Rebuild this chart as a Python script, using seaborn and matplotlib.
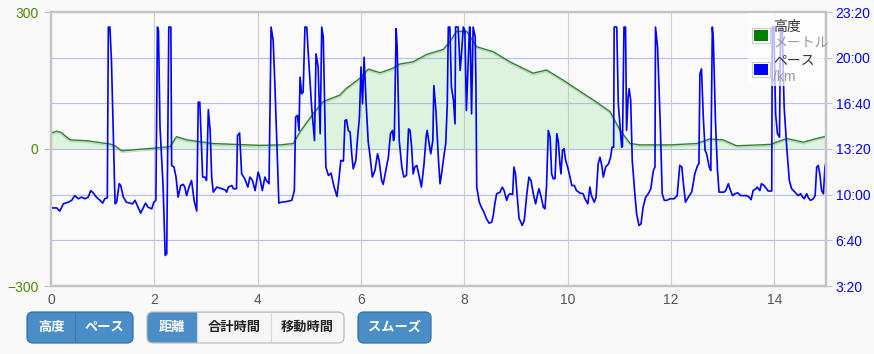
import matplotlib
matplotlib.use("Agg")
import matplotlib.pyplot as plt
import matplotlib.patheffects as pe
import seaborn as sns
from matplotlib.patches import FancyBboxPatch, Rectangle
from matplotlib.ticker import FuncFormatter

# 高度 (m) / 距離 (km)
elev_km = [0.0, 0.11, 0.2, 0.37, 0.7, 1.14, 1.24, 1.37, 1.78, 2.0, 2.30, 2.36, 2.43, 2.63, 3.13,
           4.04, 4.43, 4.69, 4.82, 5.08, 5.27, 5.59, 5.72, 5.98, 6.14, 6.37, 6.62, 6.75, 7.01, 7.27,
           7.59, 7.72, 7.85, 8.05, 8.24, 8.56, 8.88, 9.33, 9.59, 9.91, 10.11, 10.5, 10.82, 11.01, 11.21,
           11.4, 11.98, 12.5, 12.75, 13.01, 13.27, 13.92, 14.24, 14.56, 14.82, 15.0]
elev_m = [35, 39, 36, 20, 18, 11, 7, -4, 0, 2, 5, 15, 27, 20, 12,
          8, 9, 12, 38, 78, 104, 118, 133, 155, 175, 167, 177, 186, 191, 207,
          218, 235, 258, 257, 224, 213, 191, 166, 173, 151, 136, 107, 82, 42, 12,
          9, 9, 12, 22, 20, 7, 10, 23, 15, 23, 28]

# ペース (秒/km)
pace_km = [0.0, 0.11, 0.17, 0.24, 0.335, 0.40, 0.46, 0.53, 0.59, 0.66, 0.72, 0.77, 0.82, 0.88, 0.95,
           1.00, 1.04, 1.09, 1.11, 1.14, 1.17, 1.24, 1.27, 1.32, 1.35, 1.40, 1.46, 1.53, 1.58, 1.625,
           1.67, 1.735, 1.79, 1.83, 1.88, 1.95, 1.99, 2.03, 2.06, 2.08, 2.11, 2.17, 2.21, 2.24, 2.28,
           2.32, 2.335, 2.38, 2.42, 2.46, 2.51, 2.56, 2.59, 2.625, 2.67, 2.72, 2.77, 2.82, 2.85, 2.88,
           2.935,
           2.98, 3.01, 3.045, 3.08, 3.11, 3.14, 3.21, 3.30, 3.37, 3.40, 3.43, 3.50, 3.53, 3.59, 3.61,
           3.65, 3.69, 3.75, 3.81, 3.85, 3.90, 3.95, 4.01, 4.04, 4.09, 4.14, 4.17, 4.22, 4.26, 4.30,
           4.335, 4.41, 4.46, 4.56, 4.66, 4.71, 4.735, 4.77, 4.80, 4.82, 4.85, 4.88, 4.915, 4.95, 4.98,
           5.045, 5.10, 5.13, 5.17, 5.21, 5.24, 5.27, 5.32, 5.37, 5.42, 5.48, 5.535, 5.57, 5.61, 5.66,
           5.69, 5.72, 5.755, 5.79, 5.82, 5.85, 5.90, 5.935, 5.97,
           6.00, 6.03, 6.06, 6.10, 6.14, 6.17, 6.22, 6.27, 6.32, 6.35, 6.40, 6.43, 6.48, 6.53, 6.57,
           6.61, 6.63, 6.645, 6.68, 6.70, 6.74, 6.79, 6.83, 6.88, 6.92, 6.95, 6.98, 7.01, 7.04, 7.08,
           7.13, 7.17, 7.22, 7.26, 7.28, 7.31, 7.35, 7.39, 7.41, 7.45, 7.50, 7.53, 7.56, 7.61, 7.64,
           7.67, 7.69, 7.72, 7.75, 7.79, 7.82, 7.83, 7.88, 7.92, 7.95, 7.98, 8.01, 8.04, 8.08, 8.10,
           8.11, 8.14, 8.17, 8.21, 8.225, 8.24, 8.29, 8.33, 8.38, 8.43, 8.48, 8.53, 8.56, 8.59, 8.625,
           8.69, 8.735, 8.77, 8.82, 8.85, 8.88, 8.935, 8.96, 8.99, 9.025, 9.06,
           9.08, 9.12, 9.16, 9.21, 9.25, 9.29, 9.335, 9.38, 9.42, 9.445, 9.48, 9.53, 9.56, 9.59, 9.625,
           9.66, 9.69, 9.72, 9.755, 9.79, 9.82, 9.85, 9.87, 9.90, 9.93, 9.96, 10.00, 10.045, 10.08, 10.13,
           10.17, 10.24, 10.30, 10.335, 10.39, 10.43, 10.46, 10.515, 10.55, 10.59, 10.625, 10.66, 10.69,
           10.735, 10.79, 10.83, 10.86, 10.89, 10.90, 10.95, 10.98, 11.045, 11.06, 11.09, 11.12, 11.14,
           11.17, 11.19, 11.22, 11.25, 11.30, 11.335, 11.38, 11.42, 11.46, 11.51, 11.56, 11.61, 11.64,
           11.66, 11.69, 11.70, 11.74, 11.79, 11.83, 11.87, 11.915, 11.98,
           12.06, 12.12, 12.17, 12.21, 12.24, 12.28, 12.335, 12.40, 12.43, 12.46, 12.515, 12.54, 12.56,
           12.59, 12.625, 12.66, 12.69, 12.74, 12.77, 12.80, 12.82, 12.86, 12.90, 12.93, 12.98, 13.025,
           13.06, 13.11, 13.14, 13.19, 13.24, 13.29, 13.35, 13.40, 13.46, 13.515, 13.55, 13.59, 13.645,
           13.67, 13.72, 13.75, 13.80, 13.85, 13.88, 13.95, 13.96, 13.99, 14.025, 14.06, 14.10, 14.12,
           14.15, 14.19, 14.24, 14.29, 14.335, 14.40, 14.46, 14.51, 14.55, 14.58, 14.625, 14.66, 14.70,
           14.755, 14.79, 14.82, 14.85, 14.88, 14.915, 14.95, 14.98, 15.00]
pace_s = [542, 542, 528, 560, 567, 575, 596, 582, 589, 582, 589, 618, 607, 589, 575,
          563, 582, 586, 1334, 1334, 1188, 560, 567, 648, 640, 589, 567, 563, 560, 575,
          553, 519, 545, 563, 545, 538, 567, 575, 1334, 1319, 896, 633, 334, 341, 1334,
          1334, 728, 721, 677, 589, 640, 645, 633, 596, 633, 662, 575, 528, 1005, 1005,
          677,
          677, 662, 972, 881, 677, 611, 633, 626, 621, 611, 633, 640, 626, 626, 859,
          870, 691, 670, 633, 677, 662, 618, 699, 677, 618, 677, 662, 648, 1334, 1275,
          1071, 563, 567, 570, 575, 618, 940, 947, 881, 1115, 1042, 1049, 1334, 1334, 1217,
          983, 837, 1217, 1159, 867, 1334, 1290, 721, 684, 694, 633, 592, 662, 750, 747,
          925, 928, 881, 874, 779, 713, 750, 852, 940,
          1159, 998, 1202, 998, 830, 779, 677, 706, 779, 750, 662, 645, 706, 764, 867,
          881, 837, 852, 1327, 1246, 837, 721, 677, 684, 888, 881, 808, 691, 721, 728,
          677, 633, 735, 852, 881, 837, 779, 837, 1078, 969, 750, 648, 691, 779, 823,
          998, 1334, 1334, 1071, 1013, 910, 1334, 1334, 1144, 1232, 1334, 1319, 969, 1217, 1334,
          1334, 954, 1334, 1290, 1071, 633, 567, 545, 523, 494, 475, 480, 509, 560, 604,
          611, 633, 618, 575, 596, 604, 601, 721, 691, 589, 494,
          487, 465, 487, 604, 677, 662, 604, 560, 604, 626, 596, 545, 538, 633, 881,
          852, 691, 670, 670, 867, 830, 735, 691, 794, 801, 750, 721, 677, 640, 640,
          618, 607, 604, 582, 560, 633, 596, 567, 589, 735, 764, 728, 677,
          721, 735, 764, 808, 808, 1334, 1334, 998, 808, 811, 1334, 1334, 881,
          1027, 1064, 1013, 750, 604, 516, 465, 472, 545, 589, 604, 626, 677,
          706, 721, 1334, 1246, 925, 604, 575, 575, 582,
          582, 596, 728, 721, 648, 567, 589, 611, 648, 691, 728, 735, 1129,
          1151, 940, 794, 779, 721, 706, 1334, 1275, 925, 706, 611, 611, 611,
          618, 648, 626, 596, 604, 608, 596, 596, 596, 589, 578, 618, 626,
          633, 618, 648, 640, 626, 616, 616, 1334, 1334, 954, 867, 852, 1334,
          1334, 983, 808, 662, 626, 611, 596, 604, 589, 582, 604, 586, 575,
          582, 596, 721, 728, 691, 618, 604, 721, 743]

x_ticks = [0, 2, 4, 6, 8, 10, 12, 14]
elev_ticks = [-300, 0, 300]
pace_ticks = [200, 400, 600, 800, 1000, 1200, 1400]

sns.set_theme(style="white")
plt.rcParams['font.family'] = ['Liberation Sans', 'Noto Sans CJK JP']

fig = plt.figure(figsize=(8.74, 3.54), dpi=100, facecolor='#f9f9f9')
ax = fig.add_axes([51/874, 68/354, 775/874, 274/354])
ax.set_facecolor('#fafafa')
ax2 = ax.twinx()

# 高度
ax.fill_between(elev_km, elev_m, 0, color='#5cd65c', alpha=0.18, lw=0, zorder=1)
sns.lineplot(x=elev_km, y=elev_m, ax=ax, color='#2a862a', lw=1.0, estimator=None, sort=False, zorder=2,
             path_effects=[pe.SimpleLineShadow(offset=(0, -1.2), shadow_color='#777777', alpha=0.25),
                           pe.Normal()])
# ペース
sns.lineplot(x=pace_km, y=pace_s, ax=ax2, color='#0000ff', lw=1.2, estimator=None, sort=False)

ax.set_xlim(0, 15)
ax.set_ylim(-300, 300)
ax2.set_ylim(200, 1400)
ax.set_xticks(x_ticks)
ax.set_yticks(elev_ticks)
ax.set_yticks([-200, -100, 100, 200], minor=True)
ax2.set_yticks(pace_ticks)
ax2.yaxis.set_major_formatter(FuncFormatter(lambda s, p: f"{int(s)//60}:{int(s)%60:02d}"))
ax.set_xlabel("")
ax.set_ylabel("")
ax2.set_ylabel("")

ax.set_axisbelow(True)
ax.grid(axis='y', which='both', color='#bcbcf4', lw=0.8)
ax.grid(axis='x', which='major', color='#d0d0d0', lw=0.8)

ax.tick_params(axis='y', which='major', length=5, width=0.8, color='#c4c4c4',
               labelcolor='#4a8a00', labelsize=10, pad=4)
ax.tick_params(axis='y', which='minor', length=0)
ax.tick_params(axis='x', length=0, labelcolor='#555555', labelsize=10, pad=5)
ax2.tick_params(axis='y', length=4, width=0.8, color='#c0c0f0', labelcolor='#0000ff',
                labelsize=10, pad=3)

for a in (ax, ax2):
    for s in a.spines.values():
        s.set_color('#c4c4c4')
        s.set_linewidth(1.6)

# legend + buttons drawn in pixel coords
bax = fig.add_axes([0, 0, 1, 1])
bax.set_xlim(0, 874)
bax.set_ylim(354, 0)
bax.axis('off')

bax.add_patch(Rectangle((748, 13), 76, 73, facecolor='white', alpha=0.72, edgecolor='none'))
for y0, c, name, unit in [(28, '#008000', '高度', 'メートル'), (62, '#0000ff', 'ペース', '/km')]:
    bax.add_patch(Rectangle((752, y0), 18, 15, facecolor='white', edgecolor='#cccccc', lw=0.8))
    bax.add_patch(Rectangle((754, y0 + 2), 14, 11, facecolor=c, edgecolor='none'))
    bax.text(773, y0 - 1, name, fontsize=10, color='#333333', va='center', ha='left')
    bax.text(773, y0 + 15, unit, fontsize=10, color='#999999', va='center', ha='left')

blue = '#4b8dc7'
blue_edge = '#3574ad'
white = '#f6f6f6'


def button_group(x0, w, segs):
    box = FancyBboxPatch((x0, 312), w, 31, boxstyle='round,pad=0,rounding_size=6',
                         facecolor=white, edgecolor='none')
    bax.add_patch(box)
    x = x0
    for label, sw, on in segs:
        r = Rectangle((x, 312), sw, 31, facecolor=blue if on else white,
                      edgecolor='#3a78b0' if on else '#d8d8d8', lw=0.8)
        bax.add_patch(r)
        r.set_clip_path(box)
        bax.text(x + sw / 2, 327.5, label, fontsize=9.5, fontweight='bold',
                 color='white' if on else '#222222', ha='center', va='center')
        x += sw
    edge = blue_edge if all(s[2] for s in segs) else '#bdbdbd'
    bax.add_patch(FancyBboxPatch((x0, 312), w, 31, boxstyle='round,pad=0,rounding_size=6',
                                 facecolor='none', edgecolor=edge, lw=0.9))


button_group(27, 106, [('高度', 48, True), ('ペース', 58, True)])
button_group(147, 197, [('距離', 50, True), ('合計時間', 74, False), ('移動時間', 73, False)])
button_group(358, 73, [('スムーズ', 73, True)])

fig.savefig('out.png', dpi=100, facecolor=fig.get_facecolor())
